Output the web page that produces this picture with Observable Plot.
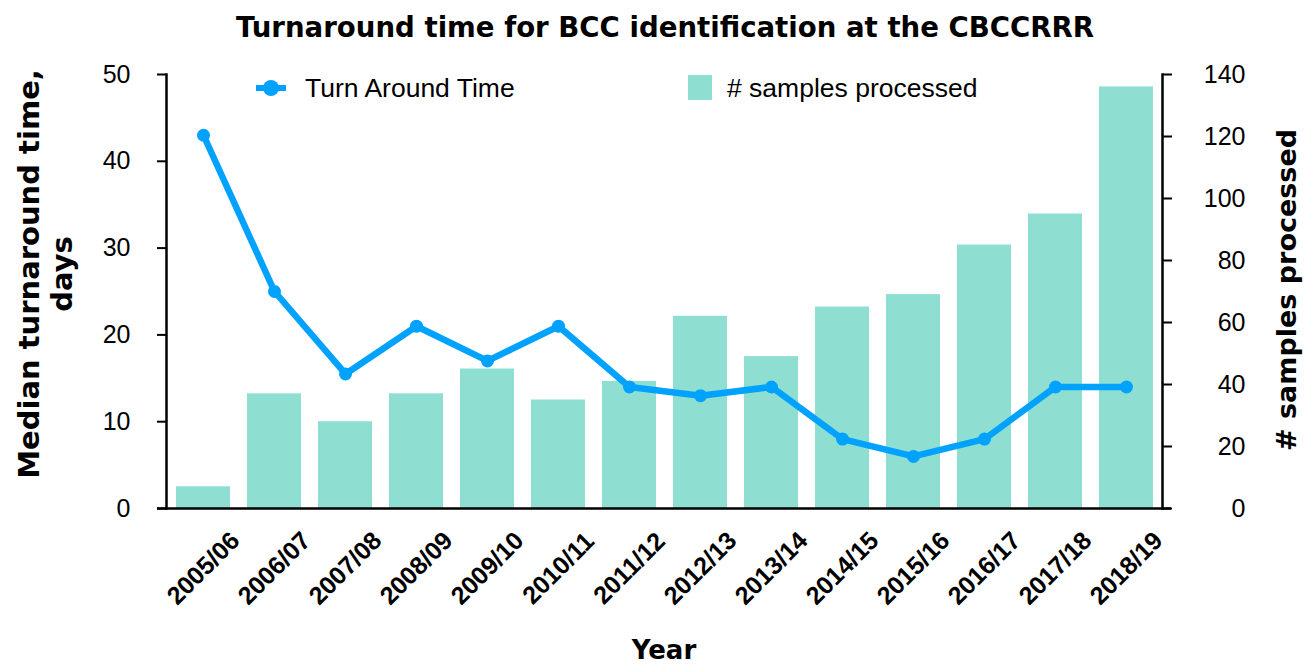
<!DOCTYPE html>
<html>
<head>
<meta charset="utf-8">
<script src="https://cdn.jsdelivr.net/npm/d3@7"></script>
<script src="https://cdn.jsdelivr.net/npm/@observablehq/plot@0.6"></script>
<style>
  html, body { margin: 0; padding: 0; background: #fff; }
  #wrap { position: relative; width: 1310px; height: 664px; font-family: "Liberation Sans", Arial, Helvetica, sans-serif; color: #000; }
  #wrap svg { position: absolute; left: 0; top: 0; }
  .abs { position: absolute; white-space: nowrap; }
  .bold { font-family: "DejaVu Sans", "Liberation Sans", sans-serif; font-weight: bold; }
  .title { left: 665px; top: 27px; transform: translate(-50%, -50%); font-size: 27.6px; }
  .ylab { transform: translate(-50%, -50%) rotate(-90deg); text-align: center; line-height: 33px; }
  .xlab { left: 664px; top: 650px; transform: translate(-50%, -50%); font-size: 26px; }
  .leg { font-size: 26.5px; transform: translateY(-50%); }
</style>
</head>
<body>
<div id="wrap">
  <div class="abs bold title">Turnaround time for BCC identification at the CBCCRRR</div>
  <div class="abs bold ylab" style="left:46px; top:274px; font-size:29px;">Median turnaround time,<br>days</div>
  <div class="abs bold ylab" style="left:1286px; top:290px; font-size:27px;"># samples processed</div>
  <div class="abs bold xlab">Year</div>
  <svg class="abs" width="60" height="30" style="left:255px; top:74px; z-index:2">
    <line x1="1" y1="14" x2="31" y2="14" stroke="#00A2FF" stroke-width="6"/>
    <circle cx="16" cy="14" r="8" fill="#00A2FF"/>
  </svg>
  <div class="abs leg" style="left:305px; top:88px;">Turn Around Time</div>
  <div class="abs" style="left:688px; top:75px; width:24px; height:25px; background:#8EDFD2;"></div>
  <div class="abs leg" style="left:727px; top:88px;"># samples processed</div>
</div>
<script>
const years = ["2005/06","2006/07","2007/08","2008/09","2009/10","2010/11","2011/12","2012/13","2013/14","2014/15","2015/16","2016/17","2017/18","2018/19"];
const turnaround = [43, 25, 15.5, 21, 17, 21, 14, 13, 14, 8, 6, 8, 14, 14];
const samples = [7, 37, 28, 37, 45, 35, 41, 62, 49, 65, 69, 85, 95, 136];
const leftTicks = [0, 10, 20, 30, 40, 50];
const rightTicks = [0, 20, 40, 60, 80, 100, 120, 140];
const leftMax = 50, rightMax = 140;
const k = leftMax / rightMax;

const rows = years.map((y, i) => ({year: y, tat: turnaround[i], n: samples[i], nScaled: samples[i] * k}));
const rightTickPos = rightTicks.map(v => v * k);

const chart = Plot.plot({
  width: 1310,
  height: 664,
  marginLeft: 166,
  marginRight: 148,
  marginTop: 74,
  marginBottom: 156,
  style: {fontFamily: "'Liberation Sans', Arial, Helvetica, sans-serif", fontSize: "25px", color: "#000", background: "transparent"},
  x: {type: "band", domain: years, paddingInner: 0.24, paddingOuter: 0.12, axis: null},
  y: {domain: [0, leftMax], axis: null},
  marks: [
    Plot.barY(rows, {x: "year", y: "nScaled", fill: "#8EDFD2"}),
    Plot.axisY({anchor: "left", ticks: leftTicks, tickSize: 9, tickPadding: 27, strokeWidth: 2, label: null, fontSize: 25}),
    Plot.axisY({anchor: "right", ticks: rightTickPos, tickFormat: () => "", tickSize: 9, strokeWidth: 2, label: null}),
    Plot.axisY({anchor: "right", ticks: rightTickPos, tickFormat: d => String(Math.round(d / k)), tickSize: 0, tickPadding: 83, textAnchor: "end", label: null, fontSize: 25}),
    Plot.frame({anchor: "left", strokeWidth: 2.5}),
    Plot.frame({anchor: "right", strokeWidth: 2.5}),
    Plot.ruleY([0], {strokeWidth: 2.5, insetLeft: -9, insetRight: -9}),
    Plot.text(years, {x: d => d, frameAnchor: "bottom", dy: 60, rotate: -45, textAnchor: "middle", lineAnchor: "middle", fontWeight: "bold", fontSize: 25, fill: "#000"}),
    Plot.line(rows, {x: "year", y: "tat", stroke: "#00A2FF", strokeWidth: 6.5, strokeLinejoin: "round"}),
    Plot.dot(rows, {x: "year", y: "tat", r: 6.5, fill: "#00A2FF", stroke: "none"})
  ]
});
document.getElementById("wrap").prepend(chart);
</script>
</body>
</html>
